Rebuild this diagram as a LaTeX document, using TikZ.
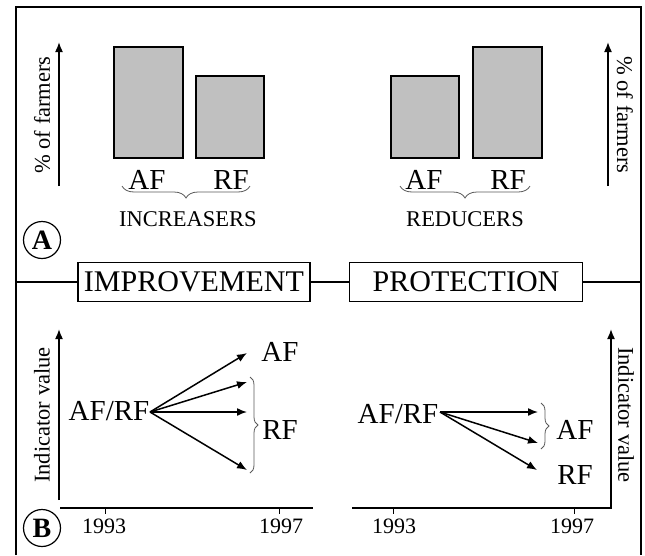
\documentclass[tikz,border=0pt]{standalone}
\usepackage{fontspec}
\setmainfont{Liberation Serif}
\usetikzlibrary{arrows.meta,decorations.pathreplacing}
\definecolor{barfill}{RGB}{192,192,192}
\definecolor{bracecol}{RGB}{90,90,90}
\tikzset{
  bar/.style={draw=black,line width=1.6pt,fill=barfill},
  axis/.style={line width=1.6pt,-{Latex[length=10pt,width=8pt]}},
  trend/.style={line width=1.5pt,-{Latex[length=10pt,width=8pt]}},
  big/.style={font=\fontsize{29}{31}\selectfont,inner sep=0pt},
  mid/.style={font=\fontsize{22.5}{24}\selectfont,inner sep=0pt},
  yr/.style={font=\fontsize{22}{23}\selectfont,inner sep=0pt},
  titlebox/.style={draw,line width=1.3pt,font=\fontsize{30}{31}\selectfont,minimum height=39pt,inner xsep=4pt,inner ysep=0pt},
  brc/.style={decorate,decoration={brace,amplitude=#1},line width=0.8pt,draw=bracecol},
  tag/.style={circle,draw,line width=1.2pt,minimum size=37pt,inner sep=0pt,font=\fontsize{28}{29}\selectfont\bfseries},
}
\begin{document}
\begin{tikzpicture}[x=1pt,y=-1pt]
\useasboundingbox (0,0) rectangle (645,555);
% frame
\draw[line width=2pt] (16,555) -- (16,7) -- (641,7) -- (641,555);
% ---------------- panel A ----------------
\coordinate (ayl0) at (59,186);
\coordinate (ayl1) at (59,42);
\draw[axis] (ayl0) -- (ayl1);
\node[mid,rotate=90] (ylabA1) at (42,115) {\% of farmers};
\coordinate (ayr0) at (608,186);
\coordinate (ayr1) at (608,42);
\draw[axis] (ayr0) -- (ayr1);
\node[mid,rotate=-90] (ylabA2) at (625,115) {\% of farmers};

\node[bar,minimum width=69pt,minimum height=111pt,inner sep=0pt,anchor=north west] (barIA) at (113,46) {};
\node[bar,minimum width=68pt,minimum height=82pt,inner sep=0pt,anchor=north west] (barIR) at (195,75) {};
\node[bar,minimum width=68pt,minimum height=82pt,inner sep=0pt,anchor=north west] (barRA) at (390,75) {};
\node[bar,minimum width=69pt,minimum height=111pt,inner sep=0pt,anchor=north west] (barRR) at (472,46) {};

\node[big] (lIA) at (147,180) {AF};
\node[big] (lIR) at (231,180) {RF};
\node[big] (lRA) at (424,180) {AF};
\node[big] (lRR) at (508,180) {RF};

\coordinate (bi0) at (122,186);
\coordinate (bi1) at (250,186);
\draw[brc=12pt,decoration={mirror}] (bi0) -- (bi1);
\coordinate (br0) at (400,186);
\coordinate (br1) at (530,186);
\draw[brc=12pt,decoration={mirror}] (br0) -- (br1);

\node[mid] (incr) at (188,219) {INCREASERS};
\node[mid] (redu) at (465,219) {REDUCERS};
\node[tag] (tagA) at (42,240) {A};

% ---------------- divider ----------------
\node[titlebox,minimum width=232pt] (impr) at (194,282) {IMPROVEMENT};
\node[titlebox,minimum width=233pt] (prot) at (466,282) {PROTECTION};
\coordinate (dl) at (16,282);
\coordinate (dr) at (641,282);
\draw[line width=1.3pt] (dl) -- (impr.west);
\draw[line width=1.3pt] (impr.east) -- (prot.west);
\draw[line width=1.3pt] (prot.east) -- (dr);

% ---------------- panel B left ----------------
\coordinate (byl0) at (59,500);
\coordinate (byl1) at (59,329);
\draw[axis] (byl0) -- (byl1);
\coordinate (bxl0) at (60,508);
\coordinate (bxl1) at (313,508);
\draw[line width=1.6pt] (bxl0) -- (bxl1);
\coordinate (t1) at (105,508);
\coordinate (t2) at (279,508);
\draw[line width=1pt] (t1) -- ++(0,6);
\draw[line width=1pt] (t2) -- ++(0,6);
\node[yr] (y1) at (104,526) {1993};
\node[yr] (y2) at (281,526) {1997};
\node[mid,rotate=90] (ylabB1) at (42,415) {Indicator value};
\node[tag] (tagB) at (42,528) {B};

\node[big] (srcL) at (109,411) {AF/RF};
\coordinate (oL) at (150,412);
\coordinate (eL1) at (247,353);
\coordinate (eL2) at (247,382);
\coordinate (eL3) at (247,412);
\coordinate (eL4) at (247,470);
\draw[trend] (oL) -- (eL1);
\draw[trend] (oL) -- (eL2);
\draw[trend] (oL) -- (eL3);
\draw[trend] (oL) -- (eL4);
\coordinate (bl0) at (250,377);
\coordinate (bl1) at (250,473);
\draw[brc=8pt] (bl0) -- (bl1);
\node[big] (afL) at (280,352) {AF};
\node[big] (rfL) at (280,430) {RF};

% ---------------- panel B right ----------------
\coordinate (byr0) at (611,508);
\coordinate (byr1) at (611,329);
\draw[axis] (byr0) -- (byr1);
\coordinate (bxr0) at (352,508);
\coordinate (bxr1) at (612,508);
\draw[line width=1.6pt] (bxr0) -- (bxr1);
\coordinate (t3) at (393,508);
\coordinate (t4) at (574,508);
\draw[line width=1pt] (t3) -- ++(0,6);
\draw[line width=1pt] (t4) -- ++(0,6);
\node[yr] (y3) at (394,526) {1993};
\node[yr] (y4) at (572,526) {1997};
\node[mid,rotate=-90] (ylabB2) at (626,415) {Indicator value};

\node[big] (srcR) at (398,414) {AF/RF};
\coordinate (oR) at (440,412);
\coordinate (eR1) at (538,412);
\coordinate (eR2) at (538,443);
\coordinate (eR3) at (537,470);
\draw[trend] (oR) -- (eR1);
\draw[trend] (oR) -- (eR2);
\draw[trend] (oR) -- (eR3);
\coordinate (brr0) at (541,403);
\coordinate (brr1) at (541,449);
\draw[brc=8pt] (brr0) -- (brr1);
\node[big] (afR) at (575,430) {AF};
\node[big] (rfR) at (575,475) {RF};
\end{tikzpicture}
\end{document}
